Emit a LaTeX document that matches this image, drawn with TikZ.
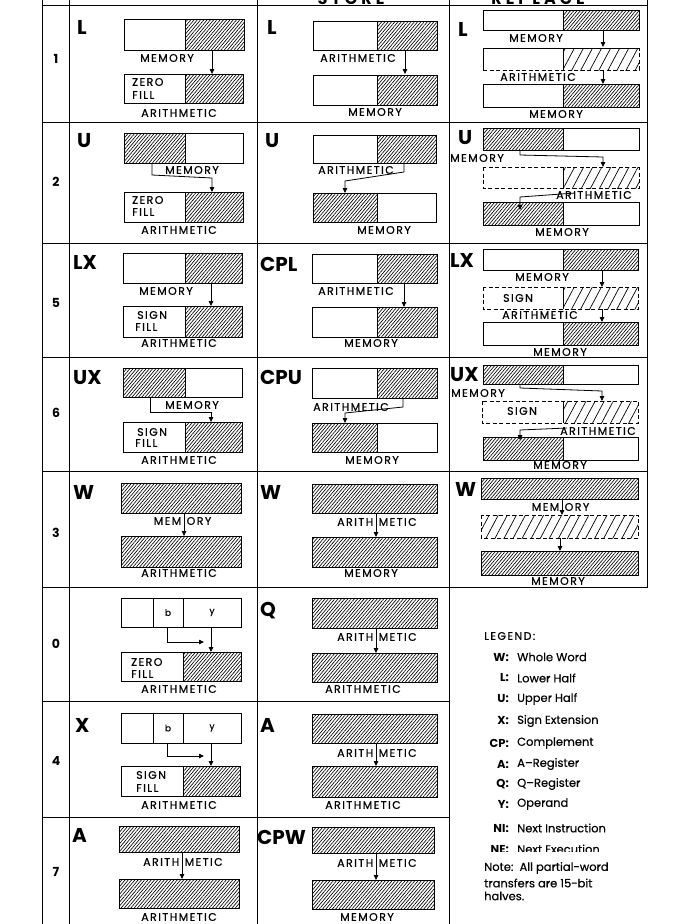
\documentclass[tikz,border=0pt]{standalone}
\usepackage{fontspec}
\setmainfont{Poppins}
\newfontfamily\labf[LetterSpace=13,FakeBold=0.6]{Poppins}
\newfontfamily\legf[FakeBold=0.4]{Poppins}
\newfontfamily\hdf[LetterSpace=25]{Poppins}
\usetikzlibrary{patterns.meta,arrows.meta}
\tikzset{
  grid/.style={line width=1pt},
  bx/.style={line width=0.9pt},
  dbx/.style={line width=0.9pt, dash pattern=on 4pt off 2.5pt},
  hat/.style={pattern={Lines[angle=50,distance=2.5pt,line width=0.65pt]}},
  sparse/.style={pattern={Lines[angle=62,distance=8pt,line width=0.7pt]}},
  arr/.style={line width=0.8pt, -{Triangle[length=5pt,width=4.5pt]}},
  lab/.style={font=\labf\fontsize{11}{11}\selectfont, inner sep=0pt},
  op/.style={font=\bfseries\fontsize{20}{20}\selectfont, inner sep=0pt, anchor=north west},
  num/.style={font=\bfseries\fontsize{12.5}{12.5}\selectfont, inner sep=0pt},
  leg/.style={font=\legf\fontsize{11.5}{11.5}\selectfont, inner sep=0pt},
  legk/.style={font=\bfseries\fontsize{11.5}{11.5}\selectfont, inner sep=0pt, anchor=east},
}
% right half hatched
\newcommand\RBr[5]{\fill[hat] (#5,#2) rectangle (#3,#4); \draw[bx] (#1,#2) rectangle (#3,#4); \draw[bx] (#5,#2) -- (#5,#4);}
% left half hatched
\newcommand\RBl[5]{\fill[hat] (#1,#2) rectangle (#5,#4); \draw[bx] (#1,#2) rectangle (#3,#4); \draw[bx] (#5,#2) -- (#5,#4);}
% whole word hatched
\newcommand\RBw[4]{\fill[hat] (#1,#2) rectangle (#3,#4); \draw[bx] (#1,#2) rectangle (#3,#4);}
% dashed temp register, right half sparse
\newcommand\RBdr[5]{\fill[sparse] (#5,#2) rectangle (#3,#4); \draw[dbx] (#1,#2) rectangle (#3,#4); \draw[bx] (#5,#2) -- (#5,#4);}
% split labels
\newcommand\SL[4]{\node[lab,anchor=east] at (#1-2.5,#2) {#3}; \node[lab,anchor=west] at (#1+2.5,#2) {#4};}
% instruction word
\newcommand\IW[2]{\draw[bx] (121,#1) rectangle (241,#2); \draw[bx] (153,#1) -- (153,#2); \draw[bx] (183,#1) -- (183,#2);
  \node[lab,font=\legf\fontsize{9}{9}\selectfont] at (168,{(#1+#2)/2}) {b};
  \node[lab,font=\legf\fontsize{9}{9}\selectfont] at (212,{(#1+#2)/2}) {y};}
\begin{document}
\begin{tikzpicture}[x=1pt,y=-1pt]
\useasboundingbox (0,0) rectangle (692,924);
\clip (0,0) rectangle (692,924);
% ---------- grid ----------
\draw[grid] (42,-10) -- (42,924);
\draw[grid] (69,-10) -- (69,924);
\draw[grid] (257,-10) -- (257,924);
\draw[grid] (449,-10) -- (449,924);
\draw[grid] (647,-10) -- (647,588);
\foreach \yy in {5,122,243,357,471,587} {\draw[grid] (42,\yy) -- (647,\yy);}
\foreach \yy in {701,817} {\draw[grid] (42,\yy) -- (449,\yy);}
% header (cut off at the top edge, as in the reference)
\node[font=\hdf\bfseries\fontsize{16}{16}\selectfont, inner sep=0pt, anchor=base] (hstore) at (351,4) {STORE};
\node[font=\hdf\bfseries\fontsize{16}{16}\selectfont, inner sep=0pt, anchor=base] (hrepl) at (538,4) {REPLACE};
% row numbers
\node[num] (n1) at (56,59) {1};
\node[num] (n2) at (56,182) {2};
\node[num] (n5) at (56,303) {5};
\node[num] (n6) at (56,413) {6};
\node[num] (n3) at (56,533) {3};
\node[num] (n0) at (56,644) {0};
\node[num] (n4) at (56,761) {4};
\node[num] (n7) at (56,872) {7};

% ================= ROW 1 =================
\node[op] at (77,20) {L};
\RBr{124}{19}{244}{50}{185}
\node[lab] at (167,58) {MEMORY};
\draw[arr] (212,50) -- (212,74);
\RBr{124}{74}{243}{103}{185}
\node[lab,anchor=west] at (132,82) {ZERO};
\node[lab,anchor=west] at (132,95) {FILL};
\node[lab] at (179,113) {ARITHMETIC};

\node[op] at (267,20) {L};
\RBr{313}{21}{437}{50}{377}
\node[lab] at (358,58) {ARITHMETIC};
\draw[arr] (405,50) -- (405,74);
\RBr{313}{75}{437}{105}{377}
\node[lab] at (375,112) {MEMORY};

\node[op] at (458,22) {L};
\RBr{483}{10}{639}{30}{563}
\node[lab] at (536,38) {MEMORY};
\draw[arr] (603,30) -- (603,47);
\fill[sparse] (563,48) rectangle (639,70);
\draw[bx] (483,70) -- (483,48) -- (639,48);
\draw[dbx] (483,70) -- (639,70) -- (639,48);
\draw[bx] (563,48) -- (563,70);
\node[lab] at (538,77) {ARITHMETIC};
\draw[arr] (603,70) -- (603,84);
\RBr{483}{84}{639}{107}{563}
\node[lab] at (556,114) {MEMORY};

% ================= ROW 2 =================
\node[op] at (77,133) {U};
\RBl{124}{133}{243}{163}{185}
\draw[arr] (152,163) -- (152,175) -- (212,178) -- (212,192);
\node[lab] at (192,170) {MEMORY};
\RBr{124}{192}{243}{222}{185}
\node[lab,anchor=west] at (132,200) {ZERO};
\node[lab,anchor=west] at (132,212) {FILL};
\node[lab] at (179,230) {ARITHMETIC};

\node[op] at (265,133) {U};
\RBr{313}{135}{436}{163}{377}
\node[lab] at (356,170) {ARITHMETIC};
\draw[arr] (404,163) -- (404,172) -- (345,181) -- (345,193);
\RBl{313}{193}{436}{222}{377}
\node[lab] at (384,230) {MEMORY};

\node[op] at (458,130) {U};
\RBl{483}{128}{639}{150}{563}
\node[lab] at (477,158) {MEMORY};
\draw[arr] (520,150) -- (520,155) -- (603,157) -- (603,167);
\RBdr{483}{167}{639}{188}{563}
\node[lab] at (594,195) {ARITHMETIC};
\RBl{483}{202}{639}{225}{563}
\draw[arr] (575,193) -- (520,197) -- (520,210);
\node[lab] at (562,232) {MEMORY};

% ================= ROW 5 =================
\node[op] at (73,255) {LX};
\RBr{123}{253}{242}{283}{185}
\node[lab] at (166,291) {MEMORY};
\draw[arr] (211,283) -- (211,306);
\RBr{123}{306}{242}{337}{185}
\node[lab,anchor=west] at (137,315) {SIGN};
\node[lab,anchor=west] at (135,327) {FILL};
\node[lab] at (179,343) {ARITHMETIC};

\node[op] at (260,257) {CPL};
\RBr{312}{254}{437}{283}{377}
\node[lab] at (356,291) {ARITHMETIC};
\draw[arr] (404,283) -- (404,307);
\RBr{312}{307}{437}{337}{377}
\node[lab] at (371,343) {MEMORY};

\node[op] at (450,253) {LX};
\RBr{483}{249}{638}{270}{563}
\node[lab] at (542,277) {MEMORY};
\draw[arr] (602,270) -- (602,287);
\RBdr{483}{287}{638}{309}{563}
\node[lab] at (518,298) {SIGN};
\node[lab] at (540,315) {ARITHMETIC};
\draw[arr] (602,309) -- (602,322);
\RBr{483}{322}{638}{345}{563}
\node[lab] at (560,352) {MEMORY};

% ================= ROW 6 =================
\node[op] at (73,370) {UX};
\RBl{123}{368}{242}{397}{185}
\node[lab] at (192,405) {MEMORY};
\draw[arr] (150,397) -- (150,412) -- (211,412) -- (211,422);
\RBr{123}{422}{242}{452}{185}
\node[lab,anchor=west] at (137,432) {SIGN};
\node[lab,anchor=west] at (135,443) {FILL};
\node[lab] at (179,460) {ARITHMETIC};

\node[op] at (260,370) {CPU};
\RBr{312}{368}{437}{398}{377}
\node[lab] at (351,407) {ARITHMETIC};
\draw[arr] (403,398) -- (403,407) -- (345,413) -- (345,423);
\RBl{312}{423}{437}{452}{377}
\node[lab] at (372,460) {MEMORY};

\node[op] at (450,367) {UX};
\RBl{483}{365}{638}{384}{563}
\node[lab] at (478,393) {MEMORY};
\draw[arr] (520,384) -- (520,388) -- (602,391) -- (602,401);
\RBdr{482}{401}{638}{423}{563}
\node[lab] at (522,411) {SIGN};
\RBl{483}{437}{638}{460}{563}
\draw[arr] (567,428) -- (520,430) -- (520,440);
\node[lab] at (598,431) {ARITHMETIC};
\node[lab] at (560,465) {MEMORY};

% ================= ROW 3 =================
\node[op] at (73,485) {W};
\RBw{121}{483}{241}{513}
\SL{184}{521}{MEM}{ORY}
\draw[arr] (184,513) -- (184,536);
\RBw{121}{536}{241}{567}
\node[lab] at (179,573) {ARITHMETIC};

\node[op] at (260,485) {W};
\RBw{312}{484}{437}{513}
\SL{376}{522}{ARITH}{METIC}
\draw[arr] (376,513) -- (376,537);
\RBw{312}{537}{437}{567}
\node[lab] at (371,573) {MEMORY};

\node[op] at (455,482) {W};
\RBw{481}{478}{638}{499}
\SL{562}{507}{MEM}{ORY}
\draw[arr] (562,499) -- (562,515);
\fill[sparse] (481,515) rectangle (638,538);
\draw[dbx] (481,515) rectangle (638,538);
\draw[arr] (560,538) -- (560,551);
\RBw{481}{551}{638}{575}
\node[lab] at (558,581) {MEMORY};

% ================= ROW 0 =================
\IW{598}{627}
\draw[arr] (167,627) -- (167,642) -- (204,642);
\draw[arr] (211,627) -- (211,652);
\RBr{121}{652}{241}{681}{183}
\node[lab,anchor=west] at (131,662) {ZERO};
\node[lab,anchor=west] at (131,674) {FILL};
\node[lab] at (179,689) {ARITHMETIC};

\node[op] at (260,602) {Q};
\RBw{312}{598}{437}{628}
\SL{376}{637}{ARITH}{METIC}
\draw[arr] (376,628) -- (376,653);
\RBw{312}{653}{437}{682}
\node[lab] at (363,689) {ARITHMETIC};

% ================= ROW 4 =================
\node[op] at (75,718) {X};
\IW{713}{743}
\draw[arr] (167,743) -- (167,756) -- (204,756);
\draw[arr] (211,743) -- (211,766);
\RBr{121}{766}{240}{796}{183}
\node[lab,anchor=west] at (136,775) {SIGN};
\node[lab,anchor=west] at (136,788) {FILL};
\node[lab] at (179,805) {ARITHMETIC};

\node[op] at (260,718) {A};
\RBw{312}{714}{437}{743}
\SL{376}{753}{ARITH}{METIC}
\draw[arr] (376,743) -- (376,766);
\RBw{312}{766}{437}{797}
\node[lab] at (363,805) {ARITHMETIC};

% ================= ROW 7 =================
\node[op] at (72,828) {A};
\RBw{119}{826}{239}{852}
\SL{182}{862}{ARITH}{METIC}
\draw[arr] (182,852) -- (182,879);
\RBw{119}{879}{239}{908}
\node[lab] at (179,917) {ARITHMETIC};

\node[op] at (257,830) {CPW};
\RBw{312}{827}{434}{853}
\SL{376}{863}{ARITH}{METIC}
\draw[arr] (376,853) -- (376,880);
\RBw{312}{880}{434}{909}
\node[lab] at (367,917) {MEMORY};

% ================= LEGEND =================
\node[lab,anchor=west] (legt) at (484,636) {LEGEND:};
\foreach \k/\t/\yy in {W/Whole Word/657, L/Lower Half/678, U/Upper Half/699, X/Sign Extension/721, CP/Complement/743, A/A–Register/764, Q/Q–Register/784, Y/Operand/804, NI/Next Instruction/828}{
  \node[legk] at (509,\yy) {\k:};
  \node[leg,anchor=west] at (517,\yy) {\t};
}
\begin{scope}
\clip (449,838) rectangle (692,851.5);
\node[legk] at (509,849) {NE:};
\node[leg,anchor=west] at (517,849) {Next Execution};
\end{scope}
\node[leg,anchor=west] at (484,868) {Note:\ \ All partial-word};
\node[leg,anchor=west] at (484,883) {transfers are 15-bit};
\node[leg,anchor=west] at (484,896) {halves.};
\end{tikzpicture}
\end{document}
